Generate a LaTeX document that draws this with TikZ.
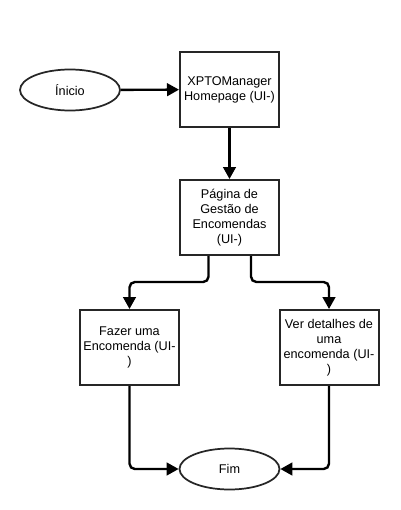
\documentclass[tikz,border=0pt]{standalone}
\usepackage{fontspec}
\setmainfont{Liberation Sans}
\usetikzlibrary{arrows.meta,shapes.geometric}
\begin{document}
\begin{tikzpicture}[x=0.75pt,y=-0.75pt,
  font=\fontsize{9.5}{11.25}\selectfont,
  box/.style={draw=black!85,line width=1.5pt,rectangle,minimum width=74.25pt,minimum height=56.25pt,inner sep=0pt,align=center},
  term/.style={draw=black!85,line width=1.3pt,ellipse,minimum width=75pt,minimum height=30.75pt,inner sep=0pt},
  conn/.style={line width=1.8pt,-{Triangle[length=9pt,width=9.5pt]},rounded corners=4pt}]
\useasboundingbox[fill=white] (0,0) rectangle (400,510);
\node[term] (ini) at (70,90) {Ínicio};
\node[box] (xpto) at (229.5,89.5) {XPTOManager\\Homepage (UI-)};
\node[box] (pag) at (229.5,217.5) {Página de\\Gestão de\\Encomendas\\(UI-)};
\node[box] (faz) at (129.5,347.5) {Fazer uma\\Encomenda (UI-\\)};
\node[box] (ver) at (329,347.5) {Ver detalhes de\\uma\\encomenda (UI-\\)};
\node[term] (fim) at (229.5,469) {Fim};
\coordinate (b1) at (208.5,282);
\coordinate (b2) at (251,282);
\draw[conn] (ini) -- (xpto);
\draw[conn] (xpto) -- (pag);
\draw[conn] (pag.south -| b1) -- (b1) -| (faz.north);
\draw[conn] (pag.south -| b2) -- (b2) -| (ver.north);
\draw[conn] (faz.south) |- (fim.west);
\draw[conn] (ver.south) |- (fim.east);
\end{tikzpicture}
\end{document}
